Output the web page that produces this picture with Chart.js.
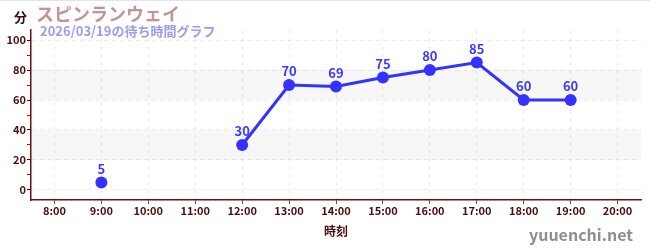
<!DOCTYPE html>
<html>
<head>
<meta charset="utf-8">
<script src="https://cdn.jsdelivr.net/npm/chart.js@4.4.1/dist/chart.umd.min.js"></script>
<style>
  html, body { margin: 0; padding: 0; background: #fff; }
  #wrap { position: relative; width: 650px; height: 250px; overflow: hidden; }
  #wrap canvas { position: absolute; left: 0; top: 0; }
  .txt { position: absolute; font-family: "Noto Sans CJK JP", "Noto Sans", sans-serif; white-space: nowrap; line-height: 1; }
  #topline { position: absolute; left: 0; top: 0; width: 650px; height: 1px; background: #e4e4f8; }
  #unit { left: 14px; top: 10px; font-size: 13px; font-weight: bold; color: #3a0a0a; }
  #title { left: 36px; top: 4px; font-size: 18px; font-weight: bold; color: #c49494; }
  #subtitle { left: 40px; top: 24px; font-size: 13px; font-weight: bold; color: #9c9cf0; }
  #site { right: 17px; top: 226px; font-size: 16px; font-weight: bold; color: #8e8e8e; }
</style>
</head>
<body>
<div id="wrap">
  <canvas id="waitChart" width="650" height="250"></canvas>
  <div id="topline"></div>
  <div class="txt" id="unit">分</div>
  <div class="txt" id="title">スピンランウェイ</div>
  <div class="txt" id="subtitle">2026/03/19の待ち時間グラフ</div>
  <div class="txt" id="site">yuuenchi.net</div>
</div>
<script>
// chart data
const hours = ['8:00', '9:00', '10:00', '11:00', '12:00', '13:00', '14:00', '15:00', '16:00', '17:00', '18:00', '19:00', '20:00'];
const waitMinutes = [null, 5, null, null, 30, 70, 69, 75, 80, 85, 60, 60, null];
const shadedBands = [[60, 80], [20, 40]];
const yMin = -6.7;
const yMax = 106.7;

const axisColor = '#6a1010';
const labelColor = '#4a0c0c';
const lineColor = '#3333ff';

// light grey bands behind the grid
const bandPlugin = {
    id: 'bands',
    beforeDraw(chart) {
        const ctx = chart.ctx;
        const area = chart.chartArea;
        const y = chart.scales.y;
        ctx.save();
        ctx.fillStyle = '#f7f7f7';
        shadedBands.forEach(function(b) {
            const top = y.getPixelForValue(b[1]);
            const bottom = y.getPixelForValue(b[0]);
            ctx.fillRect(area.left, top, area.right - area.left, bottom - top);
        });
        ctx.restore();
    }
};

// value labels above the points
const valueLabelPlugin = {
    id: 'valueLabels',
    afterDatasetsDraw(chart) {
        const ctx = chart.ctx;
        const meta = chart.getDatasetMeta(0);
        ctx.save();
        ctx.font = 'bold 13px "Noto Sans CJK JP", sans-serif';
        ctx.fillStyle = '#3c3cee';
        ctx.textAlign = 'center';
        ctx.textBaseline = 'bottom';
        meta.data.forEach(function(pt, i) {
            const v = waitMinutes[i];
            if (v === null) return;
            ctx.fillText(String(v), pt.x, pt.y - 7);
        });
        ctx.restore();
    }
};

const isMajor = v => Math.abs(v % 20) < 0.001;

new Chart(document.getElementById('waitChart'), {
    type: 'line',
    data: {
        labels: hours,
        datasets: [{
            data: waitMinutes,
            borderColor: lineColor,
            backgroundColor: lineColor,
            borderWidth: 3,
            pointRadius: 6,
            pointHoverRadius: 6,
            pointBackgroundColor: lineColor,
            pointBorderWidth: 0,
            spanGaps: false,
            tension: 0
        }]
    },
    options: {
        responsive: false,
        animation: false,
        devicePixelRatio: 1,
        layout: { padding: { top: 30, right: 9, left: 0, bottom: 0 } },
        plugins: {
            legend: { display: false },
            tooltip: { enabled: false }
        },
        scales: {
            x: {
                offset: true,
                afterFit: function(scale) { scale.height = 50; },
                grid: {
                    color: 'rgba(0,0,0,0.08)',
                    offset: false,
                    tickLength: 4,
                    tickColor: '#555',
                    tickBorderDash: []
                },
                border: { color: axisColor, width: 1.5, dash: [4, 4] },
                ticks: {
                    color: labelColor,
                    padding: 0,
                    font: { family: '"Noto Sans CJK JP", sans-serif', size: 11, weight: 'bold' }
                },
                title: {
                    display: true,
                    text: '時刻',
                    color: labelColor,
                    padding: { top: 11, bottom: 11 },
                    font: { family: '"Noto Sans CJK JP", sans-serif', size: 12, weight: 'bold' }
                }
            },
            y: {
                min: yMin,
                max: yMax,
                afterFit: function(scale) { scale.width = 31; },
                grid: {
                    color: ctx => isMajor(ctx.tick.value) ? 'rgba(0,0,0,0.08)' : 'rgba(0,0,0,0)',
                    tickLength: 4,
                    tickColor: ctx => isMajor(ctx.tick.value) ? '#3a0a0a' : '#dd0000',
                    tickBorderDash: []
                },
                border: { color: axisColor, width: 1.5, dash: [4, 4] },
                ticks: {
                    stepSize: 10,
                    includeBounds: false,
                    padding: 1,
                    color: labelColor,
                    font: { family: '"Noto Sans CJK JP", sans-serif', size: 11, weight: 'bold' },
                    callback: v => isMajor(v) ? v : ''
                }
            }
        }
    },
    plugins: [bandPlugin, valueLabelPlugin]
});
</script>
</body>
</html>
